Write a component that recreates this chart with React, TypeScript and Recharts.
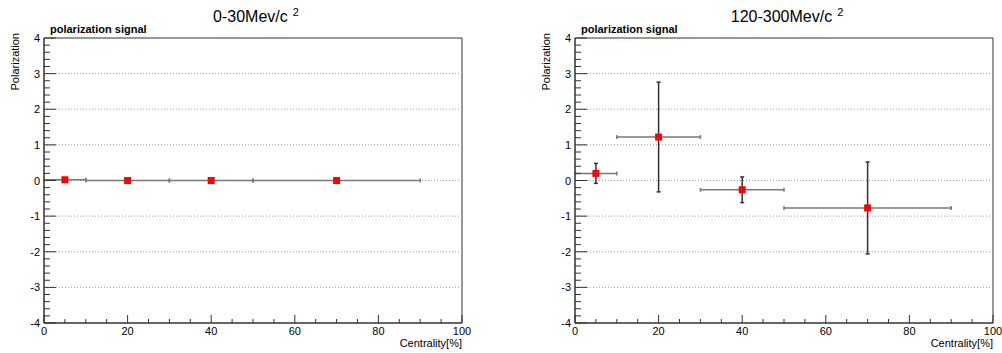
import React from "react"
import {
  ErrorBar,
  ReferenceArea,
  ReferenceLine,
  Scatter,
  ScatterChart,
  XAxis,
  YAxis,
} from "recharts"

// centrality bins (bin centre and half width)
const centrality = [5, 20, 40, 70]
const centralityErr = [5, 10, 10, 20]

// polarization, 0-30 MeV/c^2
const polLow = [0.02, 0, 0, 0]
const polLowErr = [0.01, 0.01, 0.01, 0.01]

// polarization, 120-300 MeV/c^2
const polHigh = [0.2, 1.22, -0.26, -0.77]
const polHighErr = [0.28, 1.54, 0.36, 1.29]

const xTickLabels = [0, 20, 40, 60, 80, 100]
const yTickLabels = [-4, -3, -2, -1, 0, 1, 2, 3, 4]
const gridLevels = [-3, -2, -1, 0, 1, 2, 3]

const xTicks = Array.from({ length: 21 }, (_, i) => i * 5)
const yTicks = Array.from({ length: 41 }, (_, i) => (i - 20) / 5)

const FONT = "'Liberation Sans', Arial, sans-serif"
const AXIS = "#333"

const PLOT_LEFT = 44
const PLOT_W = 418
const PLOT_TOP = 38
const PLOT_H = 285

function XTick(props: any) {
  const { x, y, payload } = props
  const v = payload.value
  const major = xTickLabels.includes(v)
  return (
    <g>
      <line x1={x} x2={x} y1={y} y2={y - (major ? 8 : 4)} stroke={AXIS} />
      {major && (
        <text x={x} y={y + 12} textAnchor="middle" fontSize={11} fill="#000" fontFamily={FONT}>
          {v}
        </text>
      )}
    </g>
  )
}

function YTick(props: any) {
  const { x, y, payload } = props
  const v = payload.value
  const major = yTickLabels.some((t) => Math.abs(v - t) < 1e-6)
  return (
    <g>
      <line x1={x} x2={x + (major ? 12 : 6)} y1={y} y2={y} stroke={AXIS} />
      {major && (
        <text x={x - 4} y={y + 4} textAnchor="end" fontSize={11} fill="#000" fontFamily={FONT}>
          {Math.round(v)}
        </text>
      )}
    </g>
  )
}

function RedSquare(props: any) {
  const { cx, cy } = props
  return <rect x={cx - 3.5} y={cy - 3.5} width={7} height={7} fill="#ff0000" />
}

function Panel({
  left,
  title,
  values,
  errors,
}: {
  left: number
  title: string
  values: number[]
  errors: number[]
}) {
  const data = centrality.map((c, i) => ({
    x: c,
    y: values[i],
    ex: centralityErr[i],
    ey: errors[i],
  }))
  const width = PLOT_LEFT + PLOT_W + 9
  return (
    <div style={{ position: "absolute", left, top: 0, width, height: 353 }}>
      <ScatterChart
        width={width}
        height={353}
        margin={{ top: PLOT_TOP, right: 9, bottom: 0, left: 0 }}
      >
        <XAxis
          type="number"
          dataKey="x"
          domain={[0, 100]}
          ticks={xTicks}
          interval={0}
          tickSize={0}
          tickMargin={0}
          tickLine={false}
          tick={<XTick />}
          height={353 - PLOT_TOP - PLOT_H}
          stroke={AXIS}
          allowDataOverflow
        />
        <YAxis
          type="number"
          dataKey="y"
          domain={[-4, 4]}
          ticks={yTicks}
          interval={0}
          tickSize={0}
          tickMargin={0}
          tickLine={false}
          tick={<YTick />}
          width={PLOT_LEFT}
          stroke={AXIS}
          allowDataOverflow
        />
        {gridLevels.map((g) => (
          <ReferenceLine key={g} y={g} stroke="#999" strokeDasharray="1 2" />
        ))}
        <ReferenceArea
          x1={0}
          x2={100}
          y1={-4}
          y2={4}
          fill="none"
          stroke={AXIS}
          ifOverflow="visible"
        />
        <Scatter data={data} shape={<RedSquare />} isAnimationActive={false}>
          <ErrorBar dataKey="ex" direction="x" width={2} stroke="#777" isAnimationActive={false} />
          <ErrorBar dataKey="ey" direction="y" width={2} stroke="#333" isAnimationActive={false} />
        </Scatter>
      </ScatterChart>
      <svg
        width={width}
        height={353}
        style={{ position: "absolute", left: 0, top: 0, pointerEvents: "none" }}
        fontFamily={FONT}
      >
        <text x={PLOT_LEFT + PLOT_W / 2 + 3} y={22} textAnchor="middle" fontSize={16} fill="#000">
          {title}
          <tspan dx={5} dy={-6} fontSize={11}>
            2
          </tspan>
        </text>
        <text x={50} y={33} fontSize={11} fontWeight="bold" fill="#000">
          polarization signal
        </text>
        <text
          transform={`translate(19, 33) rotate(-90)`}
          textAnchor="end"
          fontSize={11}
          fill="#000"
        >
          Polarization
        </text>
        <text x={PLOT_LEFT + PLOT_W} y={347} textAnchor="end" fontSize={11} fill="#000">
          Centrality[%]
        </text>
      </svg>
    </div>
  )
}

export default function App() {
  return (
    <div
      style={{
        position: "absolute",
        left: 0,
        top: 0,
        width: 1002,
        height: 353,
        background: "#fff",
        fontFamily: FONT,
      }}
    >
      <Panel left={0} title="0-30Mev/c" values={polLow} errors={polLowErr} />
      <Panel left={531} title="120-300Mev/c" values={polHigh} errors={polHighErr} />
    </div>
  )
}
